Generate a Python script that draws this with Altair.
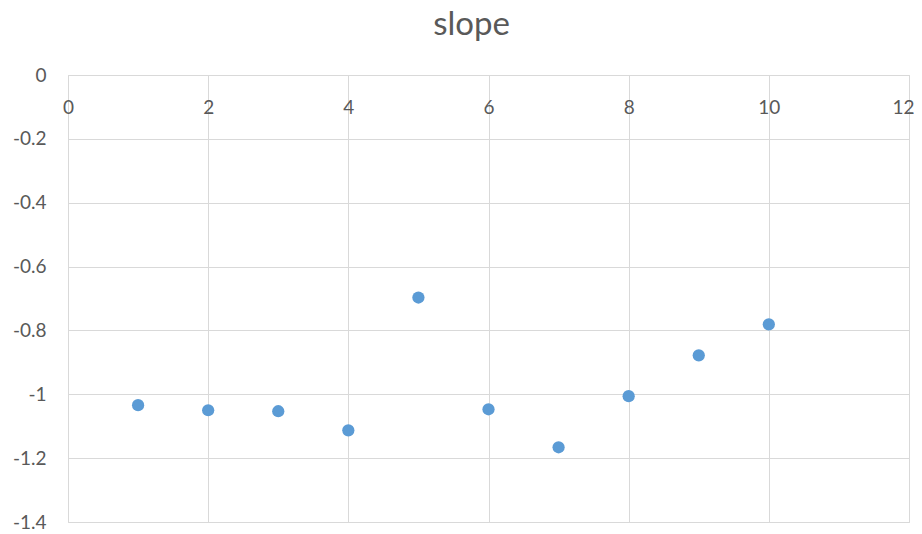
import altair as alt
import pandas as pd

x_vals = [1, 2, 3, 4, 5, 6, 7, 8, 9, 10]
slope_vals = [-1.034, -1.050, -1.053, -1.113, -0.697, -1.047, -1.166, -1.006, -0.878, -0.781]
x_ticks = [0, 2, 4, 6, 8, 10, 12]
y_ticks = [0, -0.2, -0.4, -0.6, -0.8, -1.0, -1.2, -1.4]

df = pd.DataFrame({"x": x_vals, "slope": slope_vals})

W, H = 841, 447
FONT = "Lato"
GREY = "#595959"

chart = alt.Chart(df).mark_circle(size=150, opacity=1, color="#5b9bd5").encode(
    x=alt.X("x:Q", scale=alt.Scale(domain=[0, 12], nice=False, zero=False),
            axis=alt.Axis(orient="bottom", offset=-H, values=x_ticks, title=None,
                          domain=False, ticks=False, grid=True, gridColor="#d9d9d9",
                          labelFont=FONT, labelFontSize=19, labelColor=GREY,
                          labelPadding=23, labelAlign="center", labelBaseline="top",
                          labelOffset={"condition": {"test": "datum.value == 12", "value": -6}, "value": 0},
                          labelFlush=False, labelExpr="format(datum.value, 'd')")),
    y=alt.Y("slope:Q", scale=alt.Scale(domain=[-1.4, 0], nice=False, zero=False),
            axis=alt.Axis(values=y_ticks, title=None, domain=False, ticks=False,
                          grid=True, gridColor="#d9d9d9",
                          labelFont=FONT, labelFontSize=19, labelColor=GREY,
                          labelPadding=22, labelFlush=False,
                          labelExpr="datum.value == 0 ? '0' : '-' + format(abs(datum.value), '.2~f')")),
).properties(
    width=W, height=H,
    title=alt.TitleParams("slope", font=FONT, fontSize=33, fontWeight="normal",
                          color=GREY, anchor="middle", dx=-17, offset=24),
    autosize=alt.AutoSizeParams(type="none"),
    padding={"left": 60, "top": 67, "right": 5, "bottom": 12},
).configure_view(stroke="#d9d9d9", strokeWidth=1)

chart.save("out.html", embed_options={"renderer": "svg", "actions": False})
